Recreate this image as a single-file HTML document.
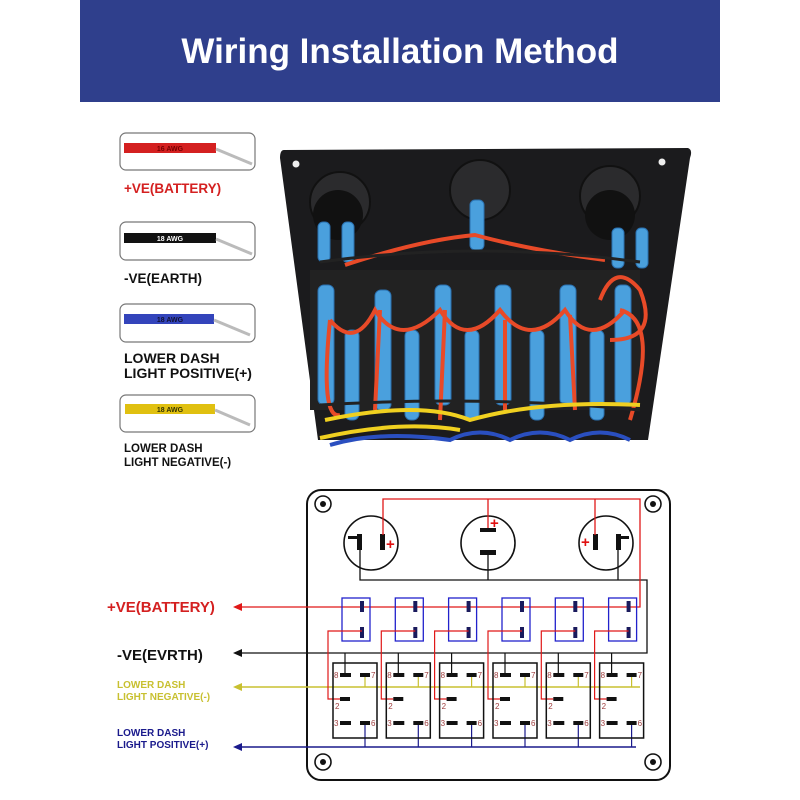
<!DOCTYPE html>
<html><head><style>
html,body{margin:0;padding:0;background:#fff;}
svg{display:block;font-family:"Liberation Sans",sans-serif;}
</style></head><body>
<svg width="800" height="800" viewBox="0 0 800 800" xmlns="http://www.w3.org/2000/svg">
<rect x="80" y="0" width="640" height="102" fill="#2f3f8c"/>
<text x="400" y="63" text-anchor="middle" font-weight="bold" font-size="35" fill="#fff">Wiring Installation Method</text>

<!-- legend -->
<g stroke="#777" stroke-width="1.2" fill="#fff">
<rect x="120" y="133" width="135" height="37" rx="6"/>
<rect x="120" y="222" width="135" height="38" rx="6"/>
<rect x="120" y="304" width="135" height="38" rx="6"/>
<rect x="120" y="395" width="135" height="37" rx="6"/>
</g>
<g>
<rect x="124" y="143" width="92" height="10" fill="#d42020"/>
<rect x="124" y="233" width="92" height="10" fill="#111"/>
<rect x="124" y="314" width="90" height="10" fill="#3344bb"/>
<rect x="125" y="404" width="90" height="10" fill="#e0c010"/>
<g stroke="#bbb" stroke-width="3"><line x1="216" y1="149" x2="252" y2="164"/><line x1="216" y1="239" x2="252" y2="254"/><line x1="214" y1="320" x2="250" y2="335"/><line x1="215" y1="410" x2="250" y2="425"/></g>
<g font-size="7" font-weight="bold" text-anchor="middle"><text x="170" y="151" fill="#700">16 AWG</text><text x="170" y="241" fill="#fff">18 AWG</text><text x="170" y="322" fill="#113">18 AWG</text><text x="170" y="412" fill="#330">18 AWG</text></g>
</g>
<g font-weight="bold">
<text x="124" y="193" fill="#d42020" font-size="13.5">+VE(BATTERY)</text>
<text x="124" y="283" fill="#111" font-size="13.5">-VE(EARTH)</text>
<text x="124" y="363" fill="#111" font-size="14">LOWER DASH</text>
<text x="124" y="378" fill="#111" font-size="14">LIGHT POSITIVE(+)</text>
<text x="124" y="452" fill="#111" font-size="11.5">LOWER DASH</text>
<text x="124" y="466" fill="#111" font-size="11.5">LIGHT NEGATIVE(-)</text>
</g>

<!-- photo -->
<path d="M284,150 L688,148 Q693,150 690,158 L648,440 L318,440 L280,158 Q280,150 284,150Z" fill="#1b1b1d"/>
<circle cx="296" cy="164" r="3.5" fill="#eee"/><circle cx="662" cy="162" r="3.5" fill="#eee"/>
<g fill="#2b2b2d" stroke="#111" stroke-width="2">
<circle cx="340" cy="202" r="30"/><circle cx="480" cy="190" r="30"/><circle cx="610" cy="196" r="30"/>
</g>
<g fill="#111"><circle cx="338" cy="215" r="25"/><circle cx="610" cy="215" r="25"/></g>
<rect x="310" y="270" width="330" height="140" fill="#222"/>
<g fill="#4aa0dd" stroke="#2a70b0">
<rect x="318" y="222" width="12" height="40" rx="5"/><rect x="342" y="222" width="12" height="40" rx="5"/>
<rect x="470" y="200" width="14" height="50" rx="5"/>
<rect x="612" y="228" width="12" height="40" rx="5"/><rect x="636" y="228" width="12" height="40" rx="5"/>
<rect x="318" y="285" width="16" height="120" rx="6"/><rect x="375" y="290" width="16" height="120" rx="6"/>
<rect x="435" y="285" width="16" height="120" rx="6"/><rect x="495" y="285" width="16" height="120" rx="6"/>
<rect x="560" y="285" width="16" height="120" rx="6"/><rect x="615" y="285" width="16" height="120" rx="6"/>
<rect x="345" y="330" width="14" height="90" rx="6"/><rect x="405" y="330" width="14" height="90" rx="6"/>
<rect x="465" y="330" width="14" height="90" rx="6"/><rect x="530" y="330" width="14" height="90" rx="6"/>
<rect x="590" y="330" width="14" height="90" rx="6"/>
</g>
<g fill="none" stroke="#e84a28" stroke-width="4">
<path d="M345,265 Q420,240 475,235 Q530,250 605,260"/>
<path d="M330,320 Q355,350 375,310 Q400,350 440,310 Q465,350 500,310 Q530,350 565,310 Q590,350 625,310"/>
<path d="M330,320 Q320,420 340,415 M380,310 L375,410 M445,310 L440,420 M505,320 L505,410 M570,315 L575,410 M620,310 Q660,320 630,420"/>
<path d="M600,300 Q615,260 640,290 Q660,340 610,340"/>
</g>
<g fill="none" stroke="#222" stroke-width="3"><path d="M320,262 Q480,240 640,262"/><path d="M320,405 Q480,395 640,410"/></g>
<g fill="none" stroke="#f0d020" stroke-width="4"><path d="M325,420 Q420,400 470,420 Q540,400 640,405"/><path d="M320,438 Q400,420 460,430"/></g>
<g fill="none" stroke="#2a4fc0" stroke-width="4"><path d="M330,445 Q380,430 450,440 Q480,425 510,440 Q540,425 570,440 Q600,425 630,440"/></g>

<!-- diagram -->
<rect x="307" y="490" width="363" height="290" rx="14" fill="#fff" stroke="#111" stroke-width="2"/>
<g fill="none" stroke="#111" stroke-width="1.6">
<circle cx="323" cy="504" r="8"/><circle cx="653" cy="504" r="8"/><circle cx="323" cy="762" r="8"/><circle cx="653" cy="762" r="8"/>
</g>
<g fill="#111"><circle cx="323" cy="504" r="3"/><circle cx="653" cy="504" r="3"/><circle cx="323" cy="762" r="3"/><circle cx="653" cy="762" r="3"/></g>
<g fill="none" stroke="#111" stroke-width="1.6">
<circle cx="371" cy="543" r="27"/><circle cx="488" cy="543" r="27"/><circle cx="606" cy="543" r="27"/>
</g>
<g fill="#111">
<rect x="357" y="534" width="5" height="16"/><rect x="348" y="536" width="9" height="3"/>
<rect x="380" y="534" width="5" height="16"/>
<rect x="480" y="528" width="16" height="4"/><rect x="480" y="550" width="16" height="5"/>
<rect x="593" y="534" width="5" height="16"/>
<rect x="616" y="534" width="5" height="16"/><rect x="621" y="536" width="8" height="3"/>
</g>
<g fill="#e01010" font-weight="bold" font-size="15"><text x="386" y="549">+</text><text x="490" y="528">+</text><text x="581" y="547">+</text></g>
<g fill="none" stroke="#111" stroke-width="1.3">
<polyline points="360,550 360,580 647,580 647,653 240,653"/>
<line x1="488" y1="555" x2="488" y2="580"/><line x1="618" y1="550" x2="618" y2="580"/>
</g>
<g fill="none" stroke="#e01818" stroke-width="1.3">
<polyline points="383,535 383,499 640,499 640,607 240,607"/>
<line x1="488" y1="499" x2="488" y2="528"/><line x1="595" y1="499" x2="595" y2="535"/>
</g>
<polygon points="233,607 242,603 242,611" fill="#e01818"/>
<polygon points="233,653 242,649 242,657" fill="#111"/>
<polygon points="233,687 242,683 242,691" fill="#c8c030"/>
<polygon points="233,747 242,743 242,751" fill="#1a1a8c"/>
<line x1="240" y1="687" x2="640" y2="687" stroke="#c8c030" stroke-width="1.5"/>
<line x1="240" y1="747" x2="636" y2="747" stroke="#1a1a8c" stroke-width="1.5"/>
<text x="107" y="612" fill="#d42020" font-weight="bold" font-size="15">+VE(BATTERY)</text>
<text x="117" y="660" fill="#111" font-weight="bold" font-size="15">-VE(EVRTH)</text>
<text x="117" y="688" fill="#c8c030" font-weight="bold" font-size="10">LOWER DASH</text>
<text x="117" y="700" fill="#c8c030" font-weight="bold" font-size="10">LIGHT NEGATIVE(-)</text>
<text x="117" y="736" fill="#1a1a8c" font-weight="bold" font-size="10">LOWER DASH</text>
<text x="117" y="748" fill="#1a1a8c" font-weight="bold" font-size="10">LIGHT POSITIVE(+)</text>

<g id="u">
<rect x="342" y="598" width="28" height="43" fill="none" stroke="#2222cc" stroke-width="1.3"/>
<rect x="360" y="601" width="4" height="11" fill="#1a1a5c"/>
<rect x="360" y="627" width="4" height="11" fill="#1a1a5c"/>
<polyline points="362,631 328,631 328,699 340,699" fill="none" stroke="#e01818" stroke-width="1.2"/>
<line x1="345" y1="653" x2="345" y2="675" stroke="#111" stroke-width="1.2"/>
<line x1="365" y1="675" x2="365" y2="687" stroke="#c8c030" stroke-width="1.2"/>
<line x1="365" y1="723" x2="365" y2="747" stroke="#1a1a8c" stroke-width="1.2"/>
<rect x="333" y="663" width="44" height="75" fill="none" stroke="#111" stroke-width="1.5"/>
<g fill="#111"><rect x="340" y="673" width="11" height="4"/><rect x="360" y="673" width="10" height="4"/><rect x="340" y="697" width="10" height="4"/><rect x="340" y="721" width="11" height="4"/><rect x="360" y="721" width="10" height="4"/></g>
<g fill="#a04040" font-size="8"><text x="334" y="678">8</text><text x="371" y="678">7</text><text x="335" y="709">2</text><text x="334" y="726">3</text><text x="371" y="726">6</text></g>
</g>
<use href="#u" x="53.3"/><use href="#u" x="106.6"/><use href="#u" x="160"/><use href="#u" x="213.3"/><use href="#u" x="266.6"/>
</svg>
</body></html>
